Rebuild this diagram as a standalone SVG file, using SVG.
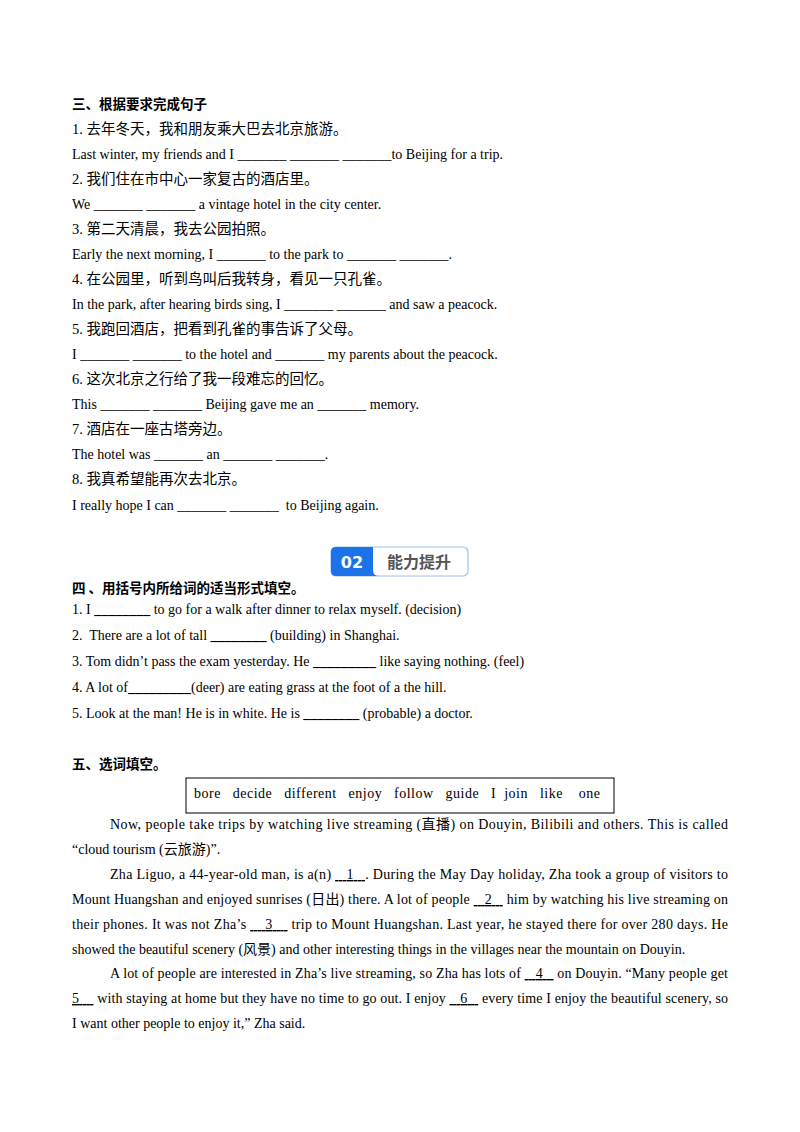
<svg xmlns="http://www.w3.org/2000/svg" width="800" height="1132" viewBox="0 0 800 1132">
<style>
text{font-family:"Liberation Serif","Noto Sans CJK SC",serif;font-size:14px;fill:#000}
.h{font-family:"Noto Sans CJK SC",sans-serif;font-weight:bold;font-size:13.5px}
.z{font-size:14.5px}
.u{text-decoration:underline}
</style>
<rect width="800" height="1132" fill="#fff"/>
<g id="s3">
<text class="h" x="72" y="109">三、根据要求完成句子</text>
<text class="z" x="72" y="134">1. 去年冬天，我和朋友乘大巴去北京旅游。</text>
<text x="72" y="159">Last winter, my friends and I _______ _______ _______to Beijing for a trip.</text>
<text class="z" x="72" y="184">2. 我们住在市中心一家复古的酒店里。</text>
<text x="72" y="209">We _______ _______ a vintage hotel in the city center.</text>
<text class="z" x="72" y="234">3. 第二天清晨，我去公园拍照。</text>
<text x="72" y="259">Early the next morning, I _______ to the park to _______ _______.</text>
<text class="z" x="72" y="284">4. 在公园里，听到鸟叫后我转身，看见一只孔雀。</text>
<text x="72" y="309">In the park, after hearing birds sing, I _______ _______ and saw a peacock.</text>
<text class="z" x="72" y="334">5. 我跑回酒店，把看到孔雀的事告诉了父母。</text>
<text x="72" y="359">I _______ _______ to the hotel and _______ my parents about the peacock.</text>
<text class="z" x="72" y="384">6. 这次北京之行给了我一段难忘的回忆。</text>
<text x="72" y="409">This _______ _______ Beijing gave me an _______ memory.</text>
<text class="z" x="72" y="434">7. 酒店在一座古塔旁边。</text>
<text x="72" y="459">The hotel was _______ an _______ _______.</text>
<text class="z" x="72" y="484">8. 我真希望能再次去北京。</text>
<text x="72" y="510" xml:space="preserve">I really hope I can _______ _______  to Beijing again.</text>
</g>
<g id="badge">
<rect x="331" y="547" width="137" height="29" rx="5" fill="#fff" stroke="#9cc3f0" stroke-width="1.2"/>
<path d="M336,547 H373 V570 Q373,576 379,576 H336 Q331,576 331,571 V552 Q331,547 336,547 Z" fill="#1a73e8"/>
<text x="352" y="568" text-anchor="middle" style="font-family:'DejaVu Sans',sans-serif;font-weight:bold;font-size:16px;fill:#fff">02</text>
<text x="419" y="568" text-anchor="middle" style="font-family:'Noto Sans CJK SC',sans-serif;font-weight:bold;font-size:16px;fill:#555">能力提升</text>
</g>
<g id="s4">
<text class="h" x="72" y="593">四 、用括号内所给词的适当形式填空。</text>
<text x="72" y="614">1. I <tspan font-weight="bold">________</tspan> to go for a walk after dinner to relax myself. (decision)</text>
<text x="72" y="640" xml:space="preserve">2.  There are a lot of tall <tspan font-weight="bold">________</tspan> (building) in Shanghai.</text>
<text x="72" y="666">3. Tom didn’t pass the exam yesterday. He <tspan font-weight="bold">_________</tspan> like saying nothing. (feel)</text>
<text x="72" y="692">4. A lot of<tspan font-weight="bold">_________</tspan>(deer) are eating grass at the foot of a the hill.</text>
<text x="72" y="718">5. Look at the man! He is in white. He is <tspan font-weight="bold">________</tspan> (probable) a doctor.</text>
</g>
<g id="s5">
<text class="h" x="72" y="769">五、选词填空。</text>
<rect x="186" y="778" width="428" height="35" fill="none" stroke="#000" stroke-width="1"/>
<text x="194" y="798" textLength="406" lengthAdjust="spacing" xml:space="preserve">bore   decide   different   enjoy   follow   guide   I  join   like    one</text>
<text x="110" y="829" textLength="618" lengthAdjust="spacing">Now, people take trips by watching live streaming (直播) on Douyin, Bilibili and others. This is called</text>
<text x="72" y="854">“cloud tourism (云旅游)”.</text>
<text x="110" y="879" textLength="618" lengthAdjust="spacing">Zha Liguo, a 44-year-old man, is a(n) <tspan class="u">&#160;&#160;&#160;1&#160;&#160;&#160;</tspan>. During the May Day holiday, Zha took a group of visitors to</text>
<text x="72" y="904" textLength="656" lengthAdjust="spacing">Mount Huangshan and enjoyed sunrises (日出) there. A lot of people <tspan class="u">&#160;&#160;&#160;2&#160;&#160;&#160;</tspan> him by watching his live streaming on</text>
<text x="72" y="929" textLength="656" lengthAdjust="spacing">their phones. It was not Zha’s <tspan class="u">&#160;&#160;&#160;&#160;3&#160;&#160;&#160;&#160;</tspan> trip to Mount Huangshan. Last year, he stayed there for over 280 days. He</text>
<text x="72" y="954">showed the beautiful scenery (风景) and other interesting things in the villages near the mountain on Douyin.</text>
<text x="110" y="978" textLength="618" lengthAdjust="spacing">A lot of people are interested in Zha’s live streaming, so Zha has lots of <tspan class="u">&#160;&#160;&#160;4&#160;&#160;&#160;</tspan> on Douyin. “Many people get</text>
<text x="72" y="1003" textLength="656" lengthAdjust="spacing"><tspan class="u">5&#160;&#160;&#160;&#160;</tspan> with staying at home but they have no time to go out. I enjoy <tspan class="u">&#160;&#160;&#160;6&#160;&#160;&#160;</tspan> every time I enjoy the beautiful scenery, so</text>
<text x="72" y="1028">I want other people to enjoy it,” Zha said.</text>
</g>
</svg>
